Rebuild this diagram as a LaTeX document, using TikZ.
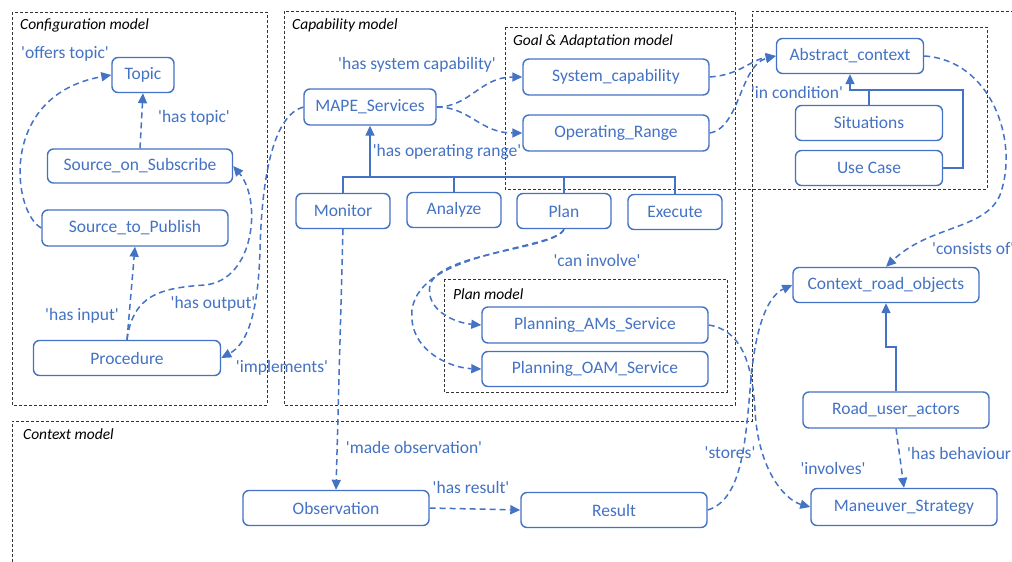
\documentclass[tikz,border=0pt]{standalone}
\usepackage{fontspec}
\setmainfont{Carlito}
\usetikzlibrary{arrows.meta}
\definecolor{cblue}{RGB}{68,114,196}
\definecolor{cframe}{RGB}{50,50,50}
\newcommand{\qq}{\textquotesingle}
\begin{document}
\begin{tikzpicture}[x=1pt,y=-1pt,
  font=\fontsize{17.5}{20}\selectfont,
  box/.style={draw=cblue, line width=1.4pt, rounded corners=6pt, text=cblue, inner sep=0pt, minimum width=186pt, minimum height=35pt},
  frame/.style={draw=cframe, line width=1pt, dash pattern=on 3pt off 2pt},
  ftitle/.style={anchor=west, inner sep=0pt, font=\fontsize{15.5}{18}\selectfont\itshape, text=black},
  rel/.style={draw=cblue, line width=1.5pt, dash pattern=on 6pt off 4pt, -{Triangle[length=10pt,width=9pt]}},
  isa/.style={draw=cblue, line width=1.5pt, -{Triangle[length=10pt,width=9pt]}},
  isant/.style={draw=cblue, line width=1.5pt},
  lbl/.style={text=cblue, inner sep=0pt}
]
\clip (0,0) rectangle (1012,562);
\fill[white] (0,0) rectangle (1012,562);

% frames
\draw[frame] (12,12) rectangle (267,405);
\draw[frame] (284,11) rectangle (735,405);
\draw[frame] (505,27) rectangle (987,189);
\draw[frame] (444,279) rectangle (727,392);
\draw[frame] (12,562) -- (12,421) -- (752,421) -- (752,11) -- (1012,11);
\node[ftitle] (t1) at (20,25) {Configuration model};
\node[ftitle] (t2) at (292,25) {Capability model};
\node[ftitle] (t3) at (513,41) {Goal \& Adaptation model};
\node[ftitle] (t4) at (453,294) {Plan model};
\node[ftitle] (t5) at (23,434) {Context model};

% nodes
\node[box, minimum width=62pt] (topic) at (143,75) {Topic};
\node[box, minimum width=185pt, minimum height=34pt] (sos) at (140,166) {Source\_on\_Subscribe};
\node[box, minimum height=36pt] (stp) at (135,228) {Source\_to\_Publish};
\node[box, minimum width=187pt] (proc) at (127,358) {Procedure};
\node[box, minimum width=132pt, minimum height=36pt] (mape) at (370,107) {MAPE\_Services};
\node[box, minimum height=36pt] (sysc) at (616,77) {System\_capability};
\node[box, minimum height=36pt] (oper) at (616,133) {Operating\_Range};
\node[box, minimum width=147pt] (absc) at (850,56) {Abstract\_context};
\node[box, minimum width=147pt] (sit) at (869,123) {Situations};
\node[box, minimum width=147pt] (uc) at (869,168) {Use Case};
\node[box, minimum width=94pt] (mon) at (343,211) {Monitor};
\node[box, minimum width=94pt] (ana) at (454,210) {Analyze};
\node[box, minimum width=94pt] (plan) at (564,211) {Plan};
\node[box, minimum width=94pt] (exe) at (675,212) {Execute};
\node[box, minimum width=226pt, minimum height=36pt] (pams) at (595,325) {Planning\_AMs\_Service};
\node[box, minimum width=226pt] (poam) at (595,369) {Planning\_OAM\_Service};
\node[box] (crobj) at (886,285) {Context\_road\_objects};
\node[box, minimum height=36pt] (rua) at (896,410) {Road\_user\_actors};
\node[box, minimum height=37pt] (mans) at (904,507) {Maneuver\_Strategy};
\node[box] (res) at (614,510) {Result};
\node[box] (obs) at (336,508) {Observation};

% coordinates for solid trees
\coordinate (bus) at (370,177);
\coordinate (j1) at (850,90);
\coordinate (j2) at (963,90);
\coordinate (j3) at (886,347);

% solid generalisation lines
\draw[isant] (mon.north) -- (mon.north |- bus) -- (exe.north |- bus) -- (exe.north);
\draw[isant] (ana.north) -- (ana.north |- bus);
\draw[isant] (plan.north) -- (plan.north |- bus);
\draw[isa] (bus) -- (mape.south);
\draw[isant] (uc.east) -| (j2) -- (j1);
\draw[isa] (sit.north) |- (j1) -- (absc.south);
\draw[isa] (rua.north) |- (j3) -- (crobj.south);

% dashed relations
\draw[rel] (sos.north) -- (topic.south);
\draw[rel] (stp.west) .. controls (12,212) and (-2,95) .. (topic.west);
\draw[rel] (proc.north) -- (stp.south);
\draw[rel] (proc.north) .. controls (133,295) and (160,288) .. (205,285) .. controls (255,280) and (262,200) .. (sos.east);
\draw[rel] (mape.west) .. controls (275,115) and (262,170) .. (260,250) .. controls (258,320) and (245,345) .. (proc.east);
\draw[rel] (mape.east) .. controls (470,107) and (480,77) .. (sysc.west);
\draw[rel] (mape.east) .. controls (470,107) and (480,133) .. (oper.west);
\draw[rel] (sysc.east) .. controls (740,75) and (750,60) .. (absc.west);
\draw[rel] (oper.east) .. controls (740,128) and (740,65) .. (absc.west);
\draw[rel] (absc.east) .. controls (990,60) and (1020,140) .. (1000,195) .. controls (985,230) and (930,225) .. (crobj.north);
\draw[rel] (plan.south) .. controls (555,250) and (440,252) .. (430,285) .. controls (425,310) and (455,323) .. (pams.west);
\draw[rel] (plan.south) .. controls (555,250) and (420,250) .. (412,310) .. controls (408,350) and (450,368) .. (poam.west);
\draw[rel] (mon.south) -- (obs.north);
\draw[rel] (obs.east) -- (res.west);
\draw[rel] (res.east) .. controls (740,500) and (745,450) .. (750,390) .. controls (755,320) and (770,295) .. (crobj.west);
\draw[rel] (pams.east) .. controls (740,330) and (752,360) .. (755,410) .. controls (758,470) and (785,500) .. (mans.west);
\draw[rel] (rua.south) -- (mans.north);

% labels
\node[lbl] (l1) at (65,54) {\qq offers topic\qq};
\node[lbl] (l2) at (194,118) {\qq has topic\qq};
\node[lbl] (l3) at (82,316) {\qq has input\qq};
\node[lbl] (l4) at (213,304) {\qq has output\qq};
\node[lbl] (l5) at (282,368) {\qq implements\qq};
\node[lbl] (l6) at (417,65) {\qq has system capability\qq};
\node[lbl] (l7) at (447,152) {\qq has operating range\qq};
\node[lbl] (l8) at (797,92) {\qq in condition\qq};
\node[lbl, anchor=west] (l9) at (932,249) {\qq consists of\qq};
\node[lbl] (l10) at (597,260) {\qq can involve\qq};
\node[lbl] (l11) at (414,447) {\qq made observation\qq};
\node[lbl] (l12) at (471,487) {\qq has result\qq};
\node[lbl] (l13) at (730,453) {\qq stores\qq};
\node[lbl] (l14) at (833,468) {\qq involves\qq};
\node[lbl, anchor=west] (l15) at (907,453) {\qq has behaviour\qq};
\end{tikzpicture}
\end{document}
